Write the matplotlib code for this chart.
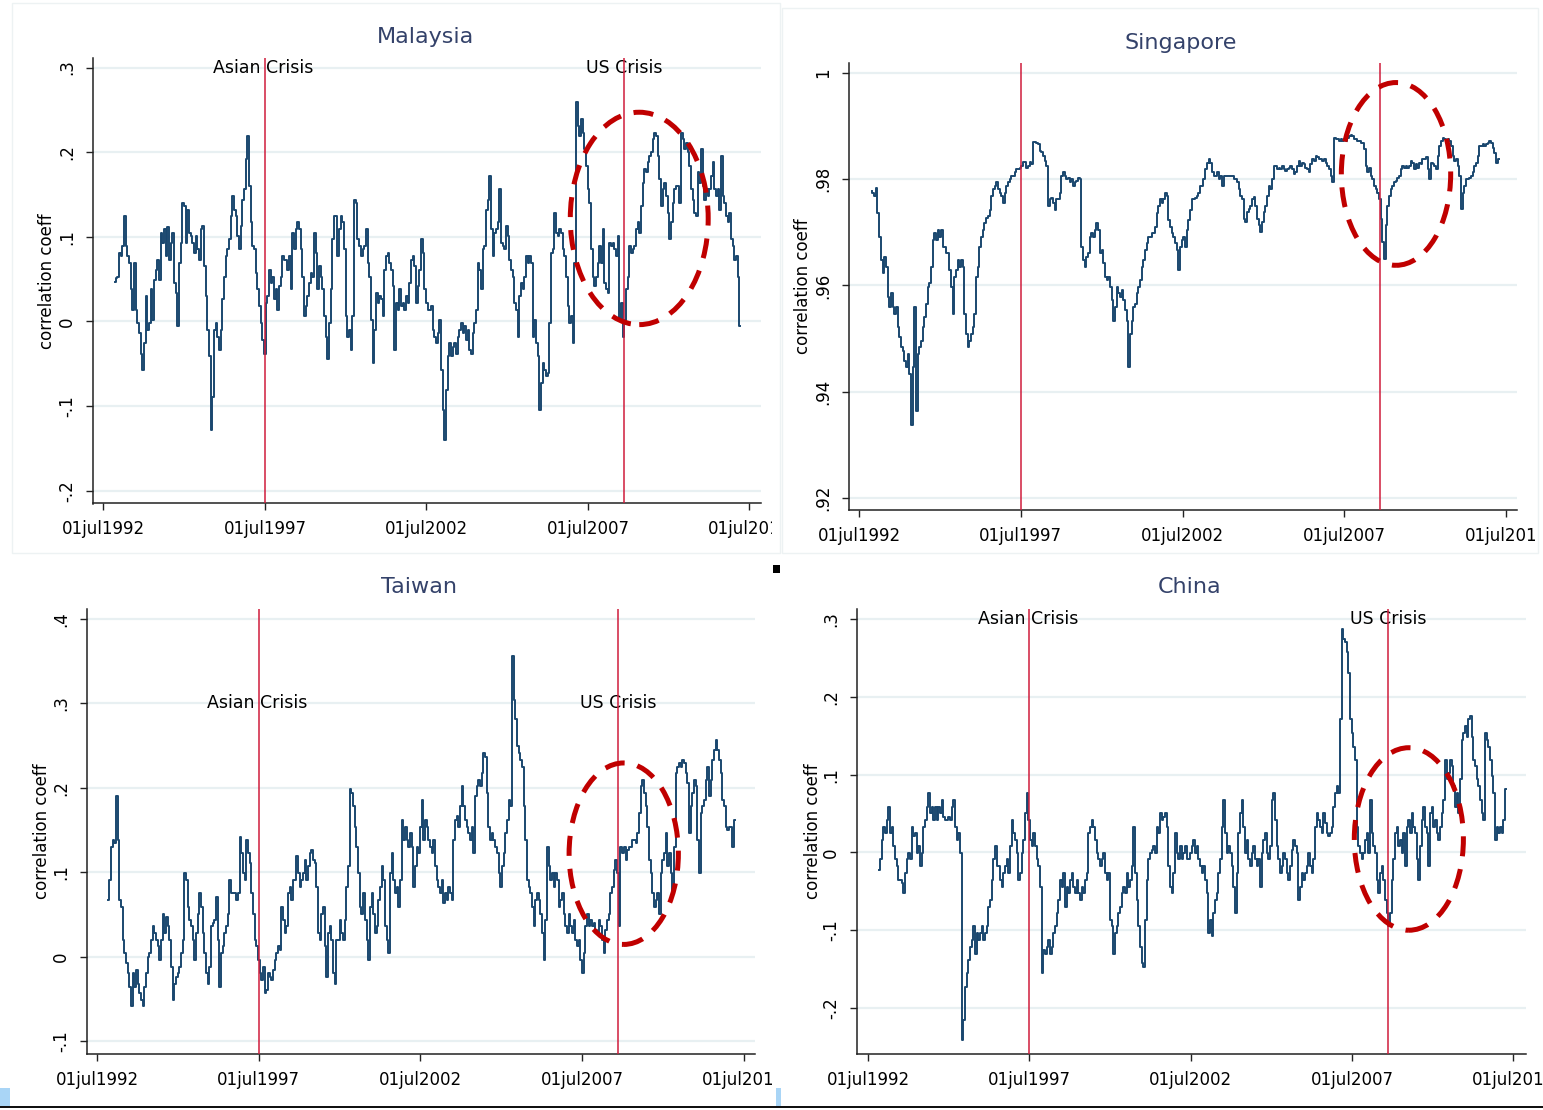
import numpy as np
import matplotlib
matplotlib.use("Agg")
import matplotlib.pyplot as plt
from matplotlib.patches import Ellipse, Rectangle

# rolling correlation coefficients
malaysia = [0.047,0.051,0.053,0.081,0.077,0.089,0.125,0.089,0.077,0.069,
0.038,0.014,0.069,0.014,-0.002,-0.014,-0.038,-0.057,-0.026,0.030,
-0.010,-0.002,0.038,0.002,0.049,0.061,0.073,0.049,0.105,0.093,
0.109,0.077,0.111,0.073,0.093,0.105,0.045,0.034,-0.006,0.069,
0.093,0.140,0.136,0.093,0.132,0.105,0.101,0.093,0.081,0.101,
0.085,0.073,0.109,0.113,0.065,0.030,-0.010,-0.041,-0.128,-0.089,
-0.010,-0.002,-0.018,-0.034,-0.010,0.026,0.053,0.077,0.085,0.097,
0.125,0.148,0.132,0.125,0.101,0.085,0.113,0.144,0.156,0.192,
0.219,0.160,0.117,0.089,0.085,0.057,0.038,0.018,-0.002,-0.022,
-0.038,0.022,0.030,0.061,0.045,0.053,0.026,0.038,0.014,0.042,
0.053,0.077,0.073,0.073,0.061,0.077,0.038,0.105,0.085,0.109,
0.117,0.109,0.085,0.053,0.006,0.018,0.030,0.045,0.057,0.053,
0.105,0.081,0.038,0.065,0.053,0.038,0.006,-0.018,-0.045,-0.002,
0.038,0.097,0.125,0.125,0.077,0.109,0.125,0.117,0.085,0.006,
-0.018,-0.010,-0.034,0.006,0.144,0.140,0.097,0.089,0.077,0.085,
0.089,0.109,0.069,0.053,0.002,-0.049,-0.010,0.034,0.022,0.030,
0.026,0.006,0.061,0.077,0.081,0.069,0.061,0.042,-0.034,0.022,
0.014,0.038,0.018,0.022,0.014,0.030,0.022,0.045,0.073,0.077,
0.065,0.022,0.042,0.061,0.097,0.081,0.038,0.022,0.014,0.014,
0.018,-0.010,-0.018,-0.026,-0.014,0.002,
-0.057,-0.105,-0.140,-0.081,-0.041,-0.026,-0.041,-0.030,-0.026,-0.038,
-0.018,-0.010,-0.002,-0.014,-0.006,-0.022,-0.010,-0.034,-0.038,-0.014,
-0.002,0.014,0.069,0.061,0.038,0.085,0.089,0.132,0.144,0.172,
0.109,0.077,0.105,0.109,0.117,0.156,0.093,0.089,0.085,0.113,
0.101,0.073,0.061,0.053,0.022,0.014,-0.018,0.030,0.045,0.038,
0.053,0.077,0.069,0.077,0.069,-0.018,0.002,-0.026,-0.041,-0.105,
-0.073,-0.049,-0.057,-0.065,-0.061,-0.002,0.081,0.085,0.128,0.105,
0.101,0.109,0.105,0.085,0.077,0.053,0.018,-0.002,0.006,-0.026,
0.069,0.259,0.231,0.219,0.239,0.223,0.204,0.184,0.156,0.140,
0.085,0.053,0.042,0.053,0.069,0.089,0.069,0.109,0.045,0.038,
0.034,0.093,0.089,0.093,0.085,0.077,0.101,0.002,0.022,-0.018,
0.002,0.038,0.053,0.089,0.081,0.085,0.089,0.109,0.117,0.105,
0.136,0.164,0.180,0.176,0.188,0.196,0.200,0.215,0.223,0.219,
0.196,0.168,0.136,0.156,0.164,0.148,0.128,0.097,0.117,0.140,
0.156,0.160,0.160,0.140,0.223,0.215,0.204,0.211,0.200,0.184,
0.156,0.144,0.128,0.125,0.176,0.164,0.204,0.160,0.144,0.156,
0.148,0.156,0.172,0.188,0.156,0.148,0.156,0.132,0.196,0.148,
0.140,0.125,0.117,0.128,0.097,0.089,0.073,0.077,0.053,-0.006]

singapore = [0.9778,0.9775,0.9768,0.9784,0.9737,0.9692,0.9648,0.9623,0.9654,0.9635,
0.9578,0.9559,0.9585,0.9559,0.9547,0.9559,0.9522,0.9503,0.9484,0.9477,
0.9458,0.9446,0.9471,0.9433,0.9338,0.9446,0.9559,0.9363,0.9471,0.9484,
0.9496,0.9522,0.9540,0.9566,0.9597,0.9604,0.9635,0.9686,0.9699,0.9686,
0.9705,0.9692,0.9705,0.9673,0.9673,0.9661,0.9661,0.9629,0.9597,0.9547,
0.9616,0.9629,0.9648,0.9635,0.9648,0.9635,0.9547,0.9509,0.9484,0.9496,
0.9509,0.9522,0.9547,0.9616,0.9635,0.9673,0.9692,0.9705,0.9718,0.9727,
0.9730,0.9743,0.9768,0.9781,0.9787,0.9794,0.9781,0.9775,0.9768,0.9756,
0.9775,0.9787,0.9794,0.9800,0.9806,0.9806,0.9813,0.9819,0.9819,0.9822,
0.9825,0.9832,0.9832,0.9822,0.9825,0.9832,0.9828,0.9870,0.9870,0.9868,
0.9866,0.9854,0.9851,0.9844,0.9835,0.9825,0.9749,0.9762,0.9765,0.9756,
0.9743,0.9762,0.9762,0.9775,0.9806,0.9813,0.9806,0.9800,0.9803,0.9794,
0.9800,0.9787,0.9794,0.9797,0.9803,0.9800,0.9673,0.9648,0.9635,0.9654,
0.9661,0.9692,0.9699,0.9692,0.9705,0.9718,0.9705,0.9661,0.9667,0.9642,
0.9616,0.9610,0.9616,0.9597,0.9572,0.9534,0.9559,0.9597,0.9585,0.9578,
0.9591,0.9572,0.9553,0.9534,0.9446,0.9509,0.9534,0.9559,0.9566,0.9585,
0.9597,0.9610,0.9635,0.9648,0.9667,0.9680,0.9692,0.9692,0.9699,0.9699,
0.9711,0.9737,0.9749,0.9762,0.9756,0.9762,0.9775,0.9768,0.9724,0.9711,
0.9699,0.9692,0.9680,0.9667,0.9629,0.9673,0.9686,0.9692,0.9673,0.9705,
0.9724,0.9743,0.9762,0.9762,0.9765,0.9768,0.9775,0.9787,
0.9788,0.9800,0.9819,0.9831,0.9838,0.9831,0.9813,0.9806,0.9806,0.9813,
0.9800,0.9806,0.9788,0.9806,0.9806,0.9806,0.9806,0.9806,0.9806,0.9800,
0.9800,0.9794,0.9781,0.9769,0.9763,0.9725,0.9719,0.9738,0.9744,0.9750,
0.9763,0.9766,0.9750,0.9725,0.9713,0.9700,0.9719,0.9738,0.9750,0.9769,
0.9788,0.9781,0.9800,0.9825,0.9825,0.9819,0.9822,0.9819,0.9825,0.9819,
0.9816,0.9819,0.9822,0.9825,0.9819,0.9809,0.9813,0.9825,0.9834,0.9825,
0.9831,0.9828,0.9822,0.9819,0.9813,0.9828,0.9838,0.9834,0.9844,0.9841,
0.9838,0.9838,0.9834,0.9838,0.9831,0.9825,0.9819,0.9806,0.9794,0.9878,
0.9875,0.9875,0.9872,0.9875,0.9872,0.9875,0.9872,0.9878,0.9881,0.9884,
0.9881,0.9875,0.9875,0.9872,0.9872,0.9869,0.9869,0.9856,0.9825,0.9813,
0.9822,0.9806,0.9800,0.9788,0.9781,0.9775,0.9763,0.9725,0.9681,0.9650,
0.9713,0.9750,0.9769,0.9781,0.9788,0.9794,0.9797,0.9803,0.9806,0.9819,
0.9825,0.9822,0.9825,0.9822,0.9825,0.9834,0.9831,0.9819,0.9828,0.9822,
0.9831,0.9828,0.9838,0.9838,0.9841,0.9819,0.9800,0.9831,0.9828,0.9825,
0.9819,0.9844,0.9863,0.9872,0.9878,0.9875,0.9869,0.9875,0.9872,0.9863,
0.9844,0.9834,0.9838,0.9825,0.9806,0.9744,0.9775,0.9788,0.9800,0.9800,
0.9803,0.9806,0.9813,0.9825,0.9831,0.9844,0.9863,0.9863,0.9866,0.9863,
0.9866,0.9869,0.9872,0.9869,0.9859,0.9850,0.9831,0.9838]

taiwan = [0.067,0.091,0.130,0.138,0.134,0.190,0.138,0.067,0.059,0.020,
0.004,-0.008,-0.020,-0.036,-0.059,-0.020,-0.036,-0.016,-0.032,-0.043,
-0.051,-0.059,-0.036,-0.020,0.000,0.004,0.020,0.036,0.028,0.020,
0.012,-0.004,0.020,0.051,0.028,0.047,0.036,0.020,-0.012,-0.051,
-0.032,-0.024,-0.020,-0.012,0.004,0.020,0.099,0.091,0.059,0.043,
0.036,0.020,-0.004,0.028,0.051,0.075,0.059,0.028,0.004,-0.020,
-0.032,-0.012,0.036,0.040,0.043,0.071,0.020,-0.036,0.004,0.012,
0.028,0.036,0.051,0.091,0.075,0.075,0.075,0.067,0.075,0.142,
0.123,0.099,0.091,0.138,0.123,0.111,0.075,0.051,0.020,0.012,
-0.004,-0.020,-0.028,-0.012,-0.043,-0.040,-0.020,-0.024,-0.028,-0.016,
-0.004,0.004,0.012,0.008,0.059,0.043,0.028,0.036,0.075,0.083,
0.067,0.091,0.091,0.119,0.099,0.083,0.091,0.099,0.115,0.091,
0.107,0.123,0.126,0.115,0.111,0.083,0.028,0.020,0.051,0.059,
0.012,-0.024,0.028,0.036,0.020,-0.020,-0.032,0.020,0.020,0.043,
0.028,0.020,0.043,0.083,0.107,0.198,0.194,0.178,0.154,0.130,
0.099,0.059,0.051,0.075,0.043,0.020,-0.004,0.059,0.075,0.051,
0.028,0.036,0.067,0.083,0.107,0.091,0.036,0.020,0.004,0.099,
0.123,0.091,0.075,0.083,0.059,0.091,0.162,0.138,0.154,0.138,
0.130,0.146,0.130,0.083,0.107,0.130,0.123,0.154,0.186,0.138,
0.162,0.154,0.138,0.130,0.123,0.138,0.107,
0.091,0.083,0.075,0.091,0.063,0.075,0.067,0.083,0.075,0.067,
0.138,0.162,0.166,0.154,0.178,0.202,0.178,0.162,0.154,0.146,
0.138,0.154,0.123,0.190,0.202,0.209,0.202,0.217,0.241,0.237,
0.194,0.154,0.138,0.146,0.138,0.130,0.123,0.099,0.083,0.107,
0.123,0.146,0.162,0.186,0.178,0.356,0.304,0.281,0.249,0.241,
0.233,0.225,0.178,0.138,0.091,0.083,0.075,0.059,0.036,0.067,
0.075,0.067,0.051,0.028,-0.004,0.043,0.130,0.107,0.091,0.099,
0.083,0.099,0.091,0.059,0.067,0.075,0.051,0.036,0.028,0.051,
0.036,0.028,0.043,0.020,0.012,0.020,-0.004,-0.020,0.004,0.036,
0.051,0.036,0.043,0.036,0.040,0.032,0.028,0.043,0.036,0.020,
0.004,0.032,0.043,0.051,0.075,0.083,0.103,0.115,0.099,0.036,
0.130,0.123,0.130,0.115,0.126,0.130,0.130,0.138,0.138,0.134,
0.146,0.170,0.202,0.209,0.194,0.178,0.154,0.115,0.099,0.075,
0.059,0.067,0.075,0.051,0.099,0.115,0.123,0.146,0.107,0.123,
0.099,0.075,0.130,0.217,0.225,0.229,0.225,0.233,0.229,0.217,
0.206,0.146,0.178,0.194,0.209,0.202,0.138,0.099,0.170,0.178,
0.186,0.209,0.225,0.190,0.209,0.233,0.245,0.257,0.245,0.233,
0.217,0.186,0.178,0.154,0.150,0.154,0.154,0.130,0.162]

china = [-0.022,-0.009,0.016,0.033,0.025,0.042,0.059,0.025,0.033,0.008,
-0.009,-0.018,-0.035,-0.035,-0.039,-0.052,-0.027,-0.009,-0.001,-0.009,
0.033,0.021,0.025,-0.001,0.008,-0.018,-0.001,0.033,0.042,0.059,
0.076,0.051,0.059,0.042,0.059,0.042,0.059,0.051,0.068,0.046,
0.042,0.042,0.046,0.042,0.059,0.068,0.033,0.016,0.025,-0.001,
-0.241,-0.215,-0.173,-0.155,-0.138,-0.121,-0.112,-0.095,-0.130,-0.104,
-0.112,-0.104,-0.095,-0.112,-0.104,-0.095,-0.070,-0.061,-0.035,-0.009,
0.008,-0.018,-0.018,-0.035,-0.044,-0.027,-0.018,-0.009,-0.027,0.008,
0.042,0.025,0.016,-0.001,-0.035,-0.027,-0.001,0.016,0.051,0.076,
0.042,0.016,0.008,0.025,0.008,-0.009,-0.018,-0.044,-0.155,-0.125,
-0.130,-0.121,-0.112,-0.130,-0.121,-0.104,-0.095,-0.078,-0.061,-0.035,
-0.044,-0.027,-0.070,-0.044,-0.052,-0.035,-0.027,-0.044,-0.052,-0.035,
-0.052,-0.061,-0.044,-0.052,-0.035,-0.027,0.025,0.033,0.042,0.033,
0.016,-0.001,-0.009,-0.018,-0.009,-0.001,-0.027,-0.035,-0.027,-0.087,
-0.095,-0.130,-0.104,-0.095,-0.078,-0.070,-0.052,-0.044,-0.052,-0.027,
-0.044,-0.035,-0.018,0.033,-0.027,-0.061,-0.095,-0.121,-0.142,-0.147,
-0.087,-0.035,-0.009,-0.001,0.003,0.008,-0.001,0.033,0.025,0.051,
0.042,0.046,0.051,0.033,-0.018,-0.044,-0.052,-0.027,0.025,-0.001,
-0.009,0.008,-0.009,-0.001,0.008,-0.009,-0.009,-0.001,0.008,0.016,
-0.001,0.008,-0.009,-0.018,-0.027,-0.018,-0.035,-0.052,-0.104,
-0.087,-0.108,-0.078,-0.061,-0.052,-0.027,-0.009,0.033,0.068,0.025,
-0.001,0.008,-0.001,-0.018,-0.044,-0.078,-0.027,0.025,0.051,0.068,
0.033,-0.001,0.016,-0.009,-0.018,-0.001,0.008,-0.009,-0.018,-0.009,
-0.044,-0.001,0.016,0.025,-0.001,-0.009,0.008,0.068,0.076,0.042,
0.008,-0.009,-0.027,-0.018,-0.001,-0.009,-0.027,-0.035,-0.018,0.003,
0.016,0.008,-0.001,-0.061,-0.044,-0.027,-0.035,-0.027,-0.018,-0.001,
-0.018,-0.027,-0.009,0.033,0.051,0.042,0.033,0.025,0.051,0.038,
0.025,0.021,0.025,0.033,0.059,0.076,0.085,0.076,0.171,0.287,
0.274,0.270,0.257,0.231,0.171,0.154,0.136,0.119,0.033,0.008,
-0.001,-0.009,-0.001,0.016,0.025,-0.001,0.068,0.025,0.008,-0.001,
-0.035,-0.052,-0.027,-0.018,-0.035,-0.061,-0.078,-0.095,-0.078,-0.035,
-0.009,0.025,0.033,0.008,0.016,-0.001,0.025,-0.018,0.033,0.042,
0.025,0.051,0.033,0.025,-0.009,-0.035,0.008,0.042,0.059,0.033,
0.025,-0.018,0.051,0.059,0.033,0.042,0.025,0.016,0.033,0.051,
0.068,0.119,0.094,0.102,0.119,0.111,0.085,0.059,0.076,0.051,
0.094,0.145,0.154,0.162,0.149,0.171,0.175,0.149,0.119,0.111,
0.094,0.085,0.068,0.051,0.042,0.154,0.145,0.136,0.119,0.098,
0.076,0.016,0.033,0.025,0.033,0.025,0.042,0.081]

# first / last observation (decimal years)
series_span = {"Malaysia": (1992.85, 2012.22), "Singapore": (1992.89, 2012.27),
               "Taiwan": (1992.85, 2012.23), "China": (1992.85, 2012.26)}

xtick_years = [1992.5, 1997.5, 2002.5, 2007.5, 2012.5]
xtick_labels = ["01jul1992", "01jul1997", "01jul2002", "01jul2007", "01jul2012"]
asian_crisis = 1997.5
us_crisis = 2008.62

W, H = 1543, 1110
fig = plt.figure(figsize=(W / 100, H / 100), dpi=100)
fig.patch.set_facecolor("white")

navy = "#1a476f"
red_line = "#d01c3c"
ellipse_red = "#c00000"
title_col = "#34426a"

# panels: name, data, pixel box (left, top, right, bottom), xlim, ylim, yticks, ylabels,
# crisis texts y, ellipse (xc, yc, w, h), ylabel x (axes frac), title pos, label clip x
panels = [
    ("Malaysia", malaysia, (92.5, 58, 761, 503.5), (1992.16, 2012.86), (-0.2152, 0.3113),
     [-0.2, -0.1, 0, 0.1, 0.2, 0.3], ["-.2", "-.1", "0", ".1", ".2", ".3"], 0.3,
     (2009.09, 0.1217, 4.27, 0.251), -0.068, (425, 37), 772),
    ("Singapore", singapore, (849, 63, 1517, 510), (1992.19, 2012.84), (0.91774, 1.00188),
     [0.92, 0.94, 0.96, 0.98, 1.0], [".92", ".94", ".96", ".98", "1"], None,
     (2009.1, 0.981, 3.38, 0.0344), -0.069, (1181, 43), 1535),
    ("Taiwan", taiwan, (87, 609, 755, 1054), (1992.19, 2012.85), (-0.1154, 0.4118),
     [-0.1, 0, 0.1, 0.2, 0.3, 0.4], ["-.1", "0", ".1", ".2", ".3", ".4"], 0.3,
     (2008.79, 0.1219, 3.38, 0.215), -0.067, (419, 587), 772),
    ("China", china, (857, 609, 1526, 1054), (1992.16, 2012.89), (-0.2591, 0.3129),
     [-0.2, -0.1, 0, 0.1, 0.2, 0.3], ["-.2", "-.1", "0", ".1", ".2", ".3"], 0.3,
     (2009.26, 0.0173, 3.38, 0.2346), -0.066, (1190, 587), 1543),
]

axes = []
for (name, vals, box, xl, yl, yt, ytl, ctext, ell, ylx, tpos, clipx) in panels:
    l, t, r, b = box
    ax = fig.add_axes([l / W, 1 - b / H, (r - l) / W, (b - t) / H])
    axes.append((ax, clipx))
    start, end = series_span[name]
    years = np.linspace(start, end, len(vals))

    for yv in yt:
        ax.axhline(yv, color="#e8f0f2", lw=1.6, zorder=0)
    ax.plot(years, vals, color=navy, lw=1.4, drawstyle="steps-mid", zorder=2)
    ax.axvline(asian_crisis, color=red_line, lw=1.1, zorder=3)
    ax.axvline(us_crisis, color=red_line, lw=1.1, zorder=3)
    if ctext is not None:
        ax.text(asian_crisis - 0.05, ctext, "Asian Crisis", ha="center", va="center", fontsize=12.5, zorder=1)
        ax.text(us_crisis, ctext, "US Crisis", ha="center", va="center", fontsize=12.5, zorder=1)
    ax.add_patch(Ellipse((ell[0], ell[1]), ell[2], ell[3], fill=False, edgecolor=ellipse_red,
                         lw=3.6, linestyle=(0, (4, 2.6)), zorder=4, clip_on=False))

    ax.set_xlim(*xl)
    ax.set_ylim(*yl)
    ax.set_xticks(xtick_years)
    ax.set_xticklabels(xtick_labels, fontsize=12)
    ax.set_yticks(yt)
    ax.set_yticklabels(ytl, fontsize=12, rotation=90, va="center")
    ax.tick_params(axis="both", direction="out", length=5, width=1, color="#222222")
    ax.tick_params(axis="x", pad=7)
    ax.tick_params(axis="y", pad=7)
    for s in ["top", "right"]:
        ax.spines[s].set_visible(False)
    for s in ["left", "bottom"]:
        ax.spines[s].set_color("#222222")
        ax.spines[s].set_linewidth(1.1)
    ax.set_ylabel("correlation coeff", fontsize=12, va="center")
    ax.yaxis.set_label_coords(ylx, 0.5)
    fig.text(tpos[0] / W, 1 - tpos[1] / H, name, ha="center", va="center",
             fontsize=16, color=title_col)

# faint frames of the pasted screenshots and small artefacts
fig.patches.append(Rectangle((12 / W, 1 - 553 / H), 768 / W, 550 / H, transform=fig.transFigure,
                             fill=False, edgecolor="#edf2f3", lw=1.0))
fig.patches.append(Rectangle((782 / W, 1 - 553 / H), 756 / W, 545 / H, transform=fig.transFigure,
                             fill=False, edgecolor="#edf2f3", lw=1.0))
fig.patches.append(Rectangle((0, 1 - 1108 / H), 1, 2 / H, transform=fig.transFigure,
                             color="#111111", lw=0))
fig.patches.append(Rectangle((773 / W, 1 - 573 / H), 7 / W, 8 / H, transform=fig.transFigure,
                             color="#000000", lw=0))
fig.patches.append(Rectangle((0, 1 - 1106 / H), 10 / W, 18 / H, transform=fig.transFigure,
                             color="#a9d5f6", lw=0))
fig.patches.append(Rectangle((776 / W, 1 - 1106 / H), 5 / W, 18 / H, transform=fig.transFigure,
                             color="#a9d5f6", lw=0))

# the original screenshots cut the last date label at their edge
fig.canvas.draw()
for ax, clipx in axes:
    clip = Rectangle((0, 0), clipx / W, 1, transform=fig.transFigure)
    for lab in ax.get_xticklabels():
        lab.set_clip_path(clip)

fig.savefig("out.png", dpi=100, facecolor="white")
